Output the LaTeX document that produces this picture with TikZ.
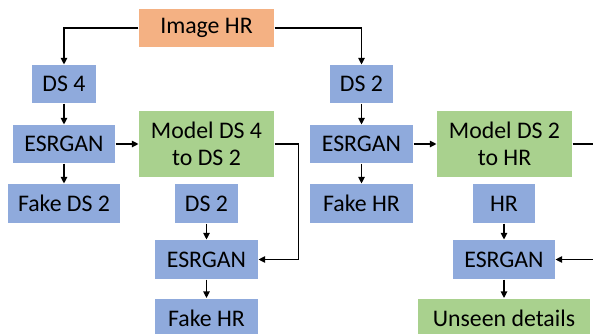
\documentclass[tikz,border=0pt]{standalone}
\usepackage{fontspec}
\setmainfont{Carlito}
\usetikzlibrary{arrows.meta}

\begin{document}
\begin{tikzpicture}[x=1pt, y=1pt, line width=1.1pt,
        box/.style={inner sep=0pt, align=center, font=\fontsize{23.8}{27}\selectfont},
        hrbox/.style={box, fill={rgb,255:red,244;green,177;blue,131}},
        dsbox/.style={box, fill={rgb,255:red,143;green,170;blue,220}},
        modelbox/.style={box, fill={rgb,255:red,169;green,209;blue,142}},
        flow/.style={-{Triangle[length=6.5pt,width=6.5pt]}}]
    \useasboundingbox (0,0) rectangle (593,333);

    \node[hrbox, minimum width=135, minimum height=38] (img) at (206.5,305) {Image HR};

    \node[dsbox, minimum width=64, minimum height=38] (ds4) at (64,249) {DS 4};
    \node[dsbox, minimum width=102, minimum height=38] (esrA) at (64,189) {ESRGAN};
    \node[dsbox, minimum width=112, minimum height=39] (fakeA) at (64,129.5) {Fake DS 2};
    \node[modelbox, minimum width=135, minimum height=66] (modelA) at (206.5,189) {Model DS 4\\to DS 2};
    \node[dsbox, minimum width=63, minimum height=39] (ds2A) at (206.5,129.5) {DS 2};
    \node[dsbox, minimum width=103, minimum height=39] (esrB) at (206.5,73.5) {ESRGAN};
    \node[dsbox, minimum width=103, minimum height=39] (fakeB) at (206.5,15) {Fake HR};

    \node[dsbox, minimum width=63, minimum height=38] (ds2B) at (361.5,249) {DS 2};
    \node[dsbox, minimum width=103, minimum height=38] (esrC) at (361.5,189) {ESRGAN};
    \node[dsbox, minimum width=103, minimum height=39] (fakeC) at (361.5,129.5) {Fake HR};
    \node[modelbox, minimum width=135, minimum height=66] (modelB) at (504.5,189) {Model DS 2\\to HR};
    \node[dsbox, minimum width=62, minimum height=39] (hr) at (504,129.5) {HR};
    \node[dsbox, minimum width=102, minimum height=39] (esrD) at (504,73.5) {ESRGAN};
    \node[modelbox, minimum width=172, minimum height=39] (unseen) at (504,15) {Unseen details};

    \coordinate (outB) at (593,189);
    \coordinate (inD) at (593,73.5);

    \draw[flow] (img.west) -| (ds4.north);
    \draw[flow] (img.east) -| (ds2B.north);

    \draw[flow] (ds4) -- (esrA);
    \draw[flow] (esrA) -- (fakeA);
    \draw[flow] (esrA) -- (modelA);
    \draw[flow] (modelA.east) -- ++(24,0) |- (esrB.east);
    \draw[flow] (ds2A) -- (esrB);
    \draw[flow] (esrB) -- (fakeB);

    \draw[flow] (ds2B) -- (esrC);
    \draw[flow] (esrC) -- (fakeC);
    \draw[flow] (esrC) -- (modelB);
    \draw (modelB.east) -- (outB);
    \draw[flow] (inD) -- (esrD.east);
    \draw[flow] (hr) -- (esrD);
    \draw[flow] (esrD) -- (unseen);
\end{tikzpicture}
\end{document}
